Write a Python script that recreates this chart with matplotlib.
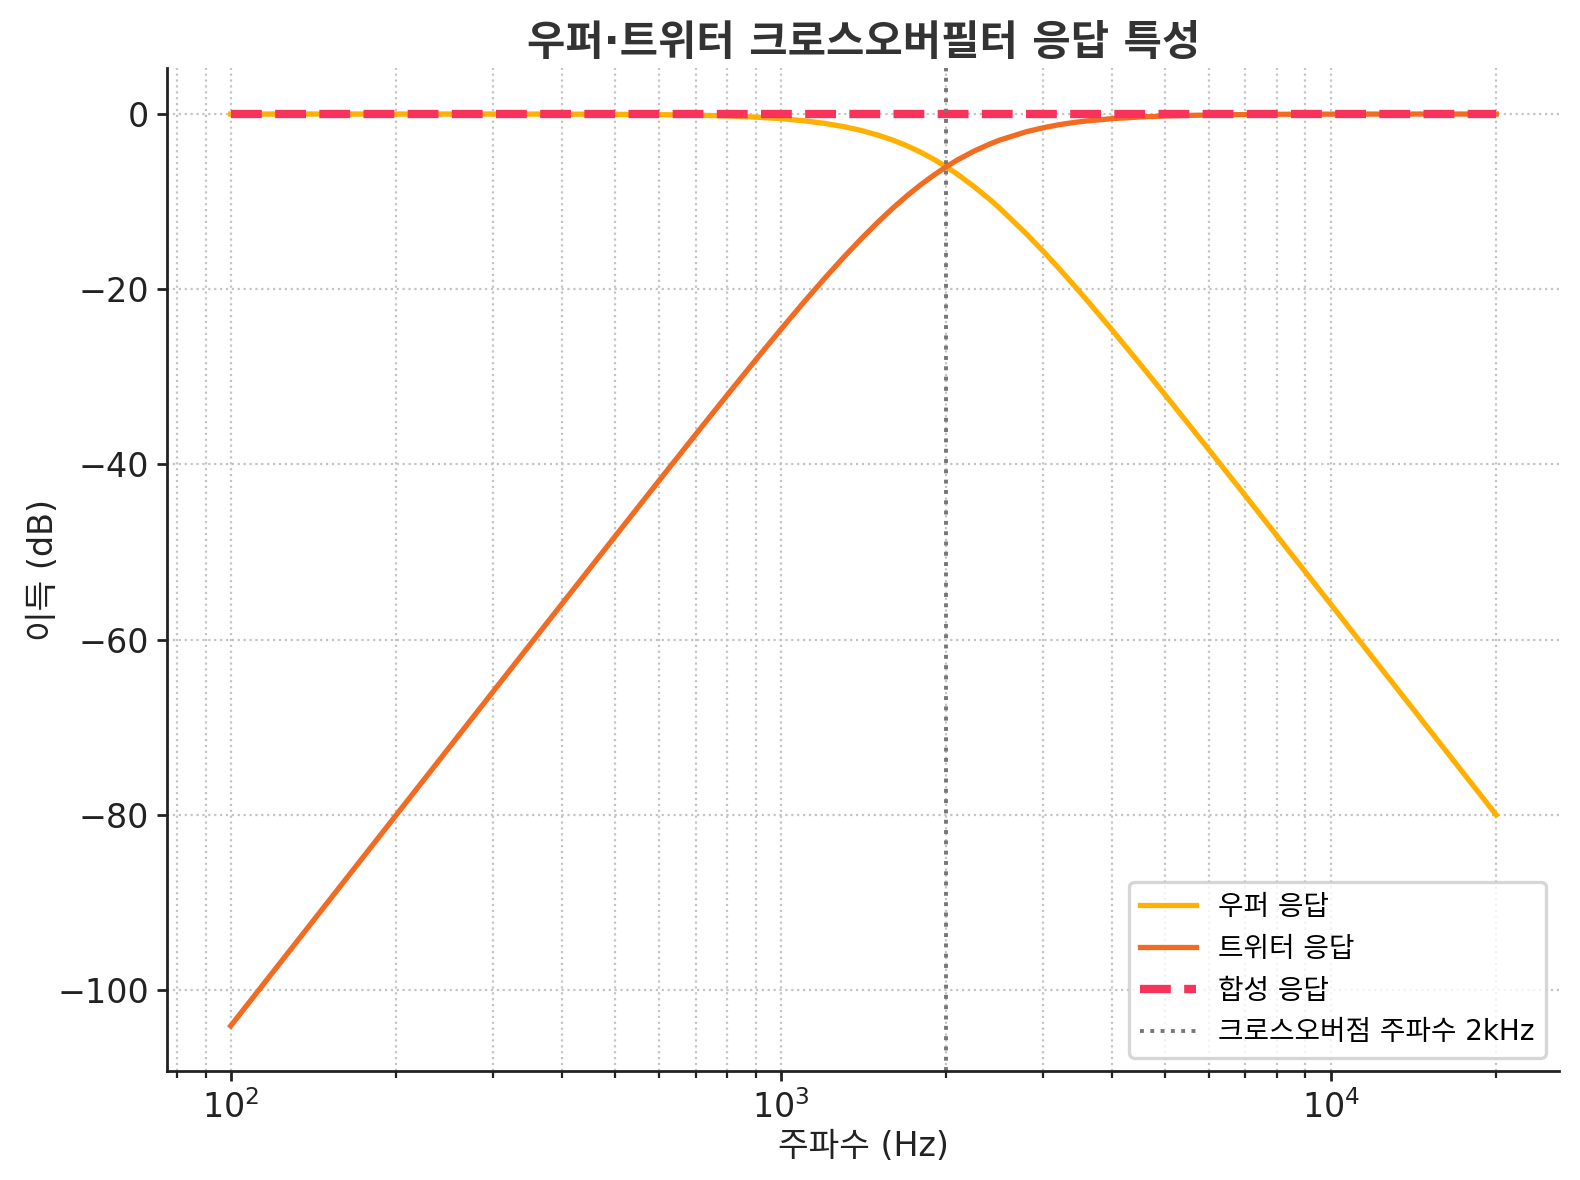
import matplotlib
matplotlib.use("Agg")
import matplotlib.pyplot as plt

plt.rcParams['font.family'] = ['DejaVu Sans', 'Noto Sans CJK KR']
plt.rcParams['axes.unicode_minus'] = True

# Data (frequency in Hz, level in dB)
freq_hz = [100, 150, 200, 300, 400, 500, 600, 700, 800, 900, 1000, 1100, 1200,
           1300, 1400, 1500, 1600, 1700, 1800, 1900, 2000, 2100, 2250, 2400,
           2500, 2800, 3000, 3200, 3400, 3600, 4000, 4500, 5000, 6000, 7000,
           8000, 10000, 14000, 20000]
lowpass_db = [0.00, 0.00, 0.00, 0.00, -0.01, -0.03, -0.07, -0.13, -0.22, -0.35,
              -0.53, -0.76, -1.06, -1.43, -1.87, -2.39, -2.98, -3.65, -4.38,
              -5.18, -6.02, -6.91, -8.31, -9.75, -10.73, -13.70, -15.65, -17.56,
              -19.42, -21.21, -24.61, -28.51, -32.05, -38.28, -43.58, -48.20,
              -55.93, -67.61, -80.00]
highpass_db = [-104.08, -89.99, -80.00, -65.92, -55.93, -48.20, -41.90, -36.60,
               -32.05, -28.09, -24.61, -21.53, -18.81, -16.39, -14.26, -12.38,
               -10.73, -9.29, -8.04, -6.96, -6.02, -5.21, -4.21, -3.42, -2.98,
               -2.01, -1.57, -1.23, -0.98, -0.79, -0.53, -0.34, -0.22, -0.11,
               -0.06, -0.03, -0.01, 0.00, 0.00]
sum_db = [0.0] * len(freq_hz)
crossover_hz = 2000

labels = ['우퍼 응답', '트위터 응답', '합성 응답', '크로스오버점 주파수 2kHz']

fig = plt.figure(figsize=(7.9, 5.9), dpi=200)
ax = fig.add_axes([0.106, 0.092, 0.881, 0.850])

ax.plot(freq_hz, lowpass_db, color='#FFB000', lw=1.9, label=labels[0])
ax.plot(freq_hz, highpass_db, color='#F26B21', lw=1.9, label=labels[1])
ax.plot(freq_hz, sum_db, color='#F7335B', lw=3.0, ls='--', label=labels[2])
ax.axvline(crossover_hz, color='#777777', lw=1.4, ls=':', label=labels[3])

ax.set_xscale('log')
ax.grid(True, which='major', ls=':', color='#c4c4c4', lw=0.8)
ax.grid(True, which='minor', axis='x', ls=':', color='#c4c4c4', lw=0.8)

for s in ['top', 'right']:
    ax.spines[s].set_visible(False)
for s in ['left', 'bottom']:
    ax.spines[s].set_linewidth(1.0)
    ax.spines[s].set_color('#222222')

ax.tick_params(axis='both', which='major', labelsize=12, width=1.0, length=3.6,
               colors='#222222', pad=3)
ax.tick_params(axis='x', which='minor', width=0.8, length=2.5, colors='#222222')

ax.set_title('우퍼·트위터 크로스오버필터 응답 특성', fontsize=15, fontweight='bold',
             color='#333333', pad=5)
ax.set_xlabel('주파수 (Hz)', fontsize=12, color='#222222', labelpad=2)
ax.set_ylabel('이득 (dB)', fontsize=12, color='#222222', labelpad=-1)

leg = ax.legend(loc='lower right', fontsize=10, frameon=True, fancybox=True,
                edgecolor='#cccccc', handlelength=2.0)
leg.get_frame().set_linewidth(1.2)

fig.savefig('out.png', dpi=200)
